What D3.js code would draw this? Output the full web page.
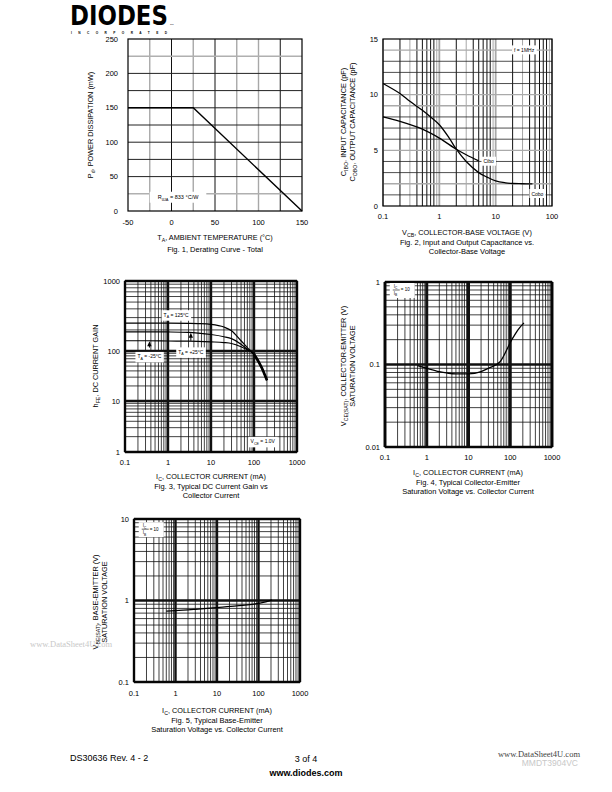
<!DOCTYPE html>
<html><head><meta charset="utf-8">
<script src="https://cdn.jsdelivr.net/npm/d3@7"></script>
<style>body{margin:0;background:#fff}svg{display:block}text{font-family:"Liberation Sans",Arial,sans-serif;fill:#000}</style>
</head><body><svg id="page" width="612" height="792"></svg>
<script>
// ---------- DATA ----------
// Fig 1: derating curve
const fig1XTicks = [-50, 0, 50, 100, 150];
const fig1YTicks = [0, 50, 100, 150, 200, 250];
const fig1Temp = [-50, 25, 150];
const fig1Power = [150, 150, 0];
// Fig 2: capacitance
const fig2XTicks = [0.1, 1, 10, 100];
const fig2XLabels = ["0.1", "1", "10", "100"];
const fig2YTicks = [0, 5, 10, 15];
const fig2VcbCobo = [0.1, 0.2, 0.3, 0.5, 0.7, 1, 1.5, 2, 3, 5, 7, 10, 15, 20, 30, 45];
const fig2Cobo = [11, 10.1, 9.4, 8.6, 8.0, 7.3, 6.1, 5.1, 4.0, 3.0, 2.6, 2.25, 2.08, 2.02, 2.0, 1.98];
const fig2VcbCibo = [0.1, 0.2, 0.5, 1, 2, 3, 5];
const fig2Cibo = [8, 7.6, 6.9, 6.1, 5.1, 4.6, 4.05];
// Fig 3: DC current gain
const fig3XTicks = [0.1, 1, 10, 100, 1000];
const fig3XLabels = ["0.1", "1", "10", "100", "1000"];
const fig3YTicks = [1, 10, 100, 1000];
const fig3Ic = [0.1, 0.3, 1, 3, 5, 10, 20, 30, 50, 70, 100, 150, 200];
const fig3H125 = [250, 250, 250, 248, 246, 240, 220, 195, 140, 112, 84, 46, 26];
const fig3H25 = [188, 188, 187, 184, 180, 172, 160, 150, 125, 106, 86, 47, 26];
const fig3Hm25 = [140, 140, 139, 138, 137, 135, 132, 128, 115, 104, 88, 48, 26];
// Fig 4: VCE(sat)
const fig4YTicks = [0.01, 0.1, 1];
const fig4YLabels = ["0.01", "0.1", "1"];
const fig4Ic = [0.6, 1, 2, 3, 5, 10, 20, 30, 57, 108, 150, 213];
const fig4Vce = [0.097, 0.09, 0.082, 0.079, 0.077, 0.077, 0.082, 0.09, 0.108, 0.198, 0.26, 0.32];
// Fig 5: VBE(sat)
const fig5YTicks = [0.1, 1, 10];
const fig5YLabels = ["0.1", "1", "10"];
const fig5Ic = [0.6, 1, 3, 10, 30, 100, 150, 210];
const fig5Vbe = [0.74, 0.75, 0.78, 0.82, 0.86, 0.92, 0.96, 1.02];

// ---------- HELPERS ----------
const svg = d3.select("#page");
svg.append("rect").attr("width", 612).attr("height", 792).attr("fill", "#fff");
const FS = 7.5;

function rich(t, parts, fs) {
  let shift = 0;
  parts.forEach(p => {
    if (Array.isArray(p)) {
      t.append("tspan").attr("dy", fs * 0.3 - shift).attr("font-size", fs * 0.72).text(p[0]);
      shift = fs * 0.3;
    } else {
      const s = t.append("tspan").text(p);
      if (shift) { s.attr("dy", -shift); shift = 0; }
    }
  });
  return t;
}
function text(x, y, parts, opts = {}) {
  const fs = opts.fs || FS;
  const t = svg.append("text").attr("x", x).attr("y", y).attr("font-size", fs)
    .attr("text-anchor", opts.anchor || "middle");
  if (opts.rotate) t.attr("transform", `rotate(-90,${x},${y})`);
  if (opts.weight) t.attr("font-weight", opts.weight);
  if (opts.fill) t.style("fill", opts.fill);
  if (opts.family) t.style("font-family", opts.family);
  rich(t, parts, fs);
  return t;
}
function logValues(lo, hi) {
  const out = [];
  for (let e = Math.round(Math.log10(lo)); e < Math.round(Math.log10(hi)); e++)
    for (let m = 1; m < 10; m++) out.push({ v: m * Math.pow(10, e), m });
  out.push({ v: hi, m: 1 });
  return out;
}
function vline(g, x, y0, y1, w, c) {
  g.append("line").attr("x1", x).attr("x2", x).attr("y1", y0).attr("y2", y1)
    .attr("stroke", c).attr("stroke-width", w);
}
function hline(g, y, x0, x1, w, c) {
  g.append("line").attr("x1", x0).attr("x2", x1).attr("y1", y).attr("y2", y)
    .attr("stroke", c).attr("stroke-width", w);
}
function frame(x, y) {
  const [x0, x1] = x.range(), r = y.range();
  const y0 = d3.min(r), y1 = d3.max(r);
  svg.append("rect").attr("x", x0).attr("y", y0).attr("width", x1 - x0).attr("height", y1 - y0)
    .attr("fill", "none").attr("stroke", "#000").attr("stroke-width", 1.2);
}
function labelBox(cx, cy, parts, fs, anchor) {
  const g = svg.append("g");
  const t = g.append("text").attr("x", cx).attr("y", cy + fs * 0.35).attr("font-size", fs)
    .attr("text-anchor", anchor || "middle");
  rich(t, parts, fs);
  const bb = t.node().getBBox();
  g.insert("rect", "text").attr("x", bb.x - 2).attr("y", bb.y - 1.5)
    .attr("width", bb.width + 4).attr("height", bb.height + 3).attr("fill", "#fff");
  return g;
}
function yTicks(y, vals, labels, xPos) {
  vals.forEach((v, i) => text(xPos, y(v) + FS * 0.35, [labels ? labels[i] : String(v)], { anchor: "end" }));
}
function xTicks(x, vals, labels, yPos) {
  vals.forEach((v, i) => text(x(v), yPos, [labels ? labels[i] : String(v)]));
}
function logGrid(x, y, xw, yw) {
  const g = svg.append("g");
  const [xd0, xd1] = x.domain();
  const yd = y.domain();
  const [x0, x1] = x.range();
  const yr = y.range();
  const ya = d3.min(yr), yb = d3.max(yr);
  logValues(xd0, xd1).forEach(d => vline(g, x(d.v), ya, yb, d.m === 1 ? xw : 0.8, "#111"));
  logValues(yd[0], yd[yd.length - 1]).forEach(d => hline(g, y(d.v), x0, x1, d.m === 1 ? yw : 0.8, "#111"));
  return g;
}

// ---------- LOGO ----------
{
  const lg = svg.append("g");
  const lt = lg.append("text").attr("x", 0).attr("y", 0).attr("font-size", 27).attr("font-weight", "bold")
    .style("font-family", "'DejaVu Sans',sans-serif").text("DIODES");
  const sx = 98 / lt.node().getComputedTextLength();
  lg.attr("transform", `translate(70,24.7) scale(${sx},1)`);
  svg.append("text").attr("x", 170).attr("y", 25).attr("font-size", 2.5).text("TM");
  svg.append("text").attr("x", 71).attr("y", 34).attr("font-size", 3.2).attr("font-weight", "bold")
    .attr("textLength", 96).attr("lengthAdjust", "spacing").text("INCORPORATED");
}

// ---------- FIG 1 ----------
{
  const x = d3.scaleLinear().domain([-50, 150]).range([128, 302]);
  const y = d3.scaleLinear().domain([0, 250]).range([211, 39]);
  const g = svg.append("g");
  const grayX = [-25, 25, 75, 100], grayY = [225, 25];
  d3.range(-25, 150, 25).forEach(v => vline(g, x(v), y(250), y(0), grayX.includes(v) ? 1.4 : 1, grayX.includes(v) ? "#a8a8a8" : "#111"));
  d3.range(25, 250, 25).forEach(v => hline(g, y(v), x(-50), x(150), grayY.includes(v) ? 1.4 : 1, grayY.includes(v) ? "#b0b0b0" : "#222"));
  frame(x, y);
  const line = d3.line().x((d, i) => x(fig1Temp[i])).y(d => y(d));
  svg.append("path").datum(fig1Power).attr("d", line).attr("fill", "none").attr("stroke", "#000").attr("stroke-width", 1.4);
  const bx0 = x(-25), bx1 = x(40), by0 = y(28), by1 = y(12);
  svg.append("rect").attr("x", bx0).attr("y", by0).attr("width", bx1 - bx0).attr("height", by1 - by0).attr("fill", "#fff");
  text((bx0 + bx1) / 2, (by0 + by1) / 2 + 2, ["R", ["θJA"], " = 833 °C/W"], { fs: 5.5 });
  yTicks(y, fig1YTicks, null, 118);
  xTicks(x, fig1XTicks, null, 225);
  text(93, 125, ["P", ["d"], ", POWER DISSIPATION (mW)"], { rotate: true, fs: 7.3 });
  text(215, 240, ["T", ["A"], ", AMBIENT TEMPERATURE (°C)"], { fs: 7.3 });
  text(215, 252, ["Fig. 1, Derating Curve - Total"]);
}

// ---------- FIG 2 ----------
{
  const x = d3.scaleLog().domain([0.1, 100]).range([383, 552]);
  const y = d3.scaleLinear().domain([0, 15]).range([206, 39]);
  const g = svg.append("g");
  logValues(0.1, 100).forEach(d => {
    const gray = d.m === 1 || d.m === 3 || d.m === 9;
    vline(g, x(d.v), 39, 206, d.m === 1 ? 1.8 : 1, gray ? "#a8a8a8" : "#111");
  });
  d3.range(1, 15).forEach(v => {
    const gray = v % 5 === 0 || v === 2 || v === 9 || v === 14;
    hline(g, y(v), 383, 552, gray ? 1.4 : 0.8, gray ? "#aaa" : "#222");
  });
  frame(x, y);
  const lineA = d3.line().curve(d3.curveCatmullRom).x((d, i) => x(fig2VcbCobo[i])).y(d => y(d));
  const lineB = d3.line().curve(d3.curveCatmullRom).x((d, i) => x(fig2VcbCibo[i])).y(d => y(d));
  svg.append("path").datum(fig2Cobo).attr("d", lineA).attr("fill", "none").attr("stroke", "#000").attr("stroke-width", 1.3);
  svg.append("path").datum(fig2Cibo).attr("d", lineB).attr("fill", "none").attr("stroke", "#000").attr("stroke-width", 1.3);
  labelBox(x(7.5), y(4.0), ["Cibo"], 5);
  labelBox(x(55), y(1.1), ["Cobo"], 5);
  labelBox(x(32), y(14), ["f = 1MHz"], 5);
  yTicks(y, fig2YTicks, null, 378);
  xTicks(x, fig2XTicks, fig2XLabels, 219);
  text(346, 122, ["C", ["IBO"], ", INPUT CAPACITANCE (pF)"], { rotate: true, fs: 7.3 });
  text(355, 122, ["C", ["OBO"], ", OUTPUT CAPACITANCE (pF)"], { rotate: true, fs: 7.3 });
  text(467, 235, ["V", ["CB"], ", COLLECTOR-BASE VOLTAGE (V)"], { fs: 7.3 });
  text(467, 245, ["Fig. 2, Input and Output Capacitance vs."]);
  text(467, 254, ["Collector-Base Voltage"]);
}

// ---------- FIG 3 ----------
{
  const x = d3.scaleLog().domain([0.1, 1000]).range([125, 297]);
  const y = d3.scaleLog().domain([1, 10, 100, 1000]).range([452, 401, 351, 281]);
  logGrid(x, y, 2.4, 2.4);
  frame(x, y);
  const mk = arr => d3.line().curve(d3.curveMonotoneX).x((d, i) => x(fig3Ic[i])).y(d => y(d))(arr);
  [fig3H125, fig3H25, fig3Hm25].forEach(a =>
    svg.append("path").attr("d", mk(a)).attr("fill", "none").attr("stroke", "#000").attr("stroke-width", 1.2));
  const tail = d3.line().curve(d3.curveMonotoneX).x((d, i) => x(fig3Ic.slice(10)[i])).y(d => y(d));
  svg.append("path").datum(fig3H25.slice(10)).attr("d", tail).attr("fill", "none").attr("stroke", "#000").attr("stroke-width", 2.6);
  [[0.37, 112, 138], [3.4, 140, 182]].forEach(([xv, v0, v1]) => {
    vline(svg, x(xv), y(v0), y(v1) + 3, 1, "#000");
    const px = x(xv), py = y(v1);
    svg.append("path").attr("d", `M${px},${py} L${px - 2.2},${py + 5} L${px + 2.2},${py + 5} Z`).attr("fill", "#000");
  });
  labelBox(x(1.55), y(327), ["T", ["A"], " = 125°C"], 5);
  labelBox(x(3.4), y(95), ["T", ["A"], " = +25°C"], 5);
  labelBox(x(0.37), y(77), ["T", ["A"], " = -25°C"], 5);
  labelBox(x(160), y(1.6), ["V", ["CE"], " = 1.0V"], 5);
  yTicks(y, fig3YTicks, null, 120);
  xTicks(x, fig3XTicks, fig3XLabels, 465);
  text(98, 366, ["h", ["FE"], ", DC CURRENT GAIN"], { rotate: true, fs: 7.3 });
  text(211, 479, ["I", ["C"], ", COLLECTOR CURRENT (mA)"], { fs: 7.3 });
  text(211, 489, ["Fig. 3, Typical DC Current Gain vs"]);
  text(211, 498, ["Collector Current"]);
}

// ---------- FIG 4 ----------
{
  const x = d3.scaleLog().domain([0.1, 1000]).range([385, 552]);
  const y = d3.scaleLog().domain([0.01, 1]).range([447, 282]);
  logGrid(x, y, 3, 2.4);
  frame(x, y);
  const line = d3.line().curve(d3.curveMonotoneX).x((d, i) => x(fig4Ic[i])).y(d => y(d));
  svg.append("path").datum(fig4Vce).attr("d", line).attr("fill", "none").attr("stroke", "#000").attr("stroke-width", 1.3);
  const bx = x(0.13), by = y(0.8);
  svg.append("rect").attr("x", bx).attr("y", by - 7).attr("width", 25).attr("height", 15).attr("fill", "#fff");
  text(bx + 4, by - 2, ["I", ["C"]], { fs: 4.5, anchor: "start" });
  hline(svg, by, bx + 3, bx + 10, 0.6, "#000");
  text(bx + 4, by + 5, ["I", ["B"]], { fs: 4.5, anchor: "start" });
  text(bx + 11, by + 1.5, ["= 10"], { fs: 4.5, anchor: "start" });
  yTicks(y, fig4YTicks, fig4YLabels, 380);
  xTicks(x, fig3XTicks, fig3XLabels, 460);
  text(346, 366, ["V", ["CE(SAT)"], ", COLLECTOR-EMITTER (V)"], { rotate: true, fs: 7.3 });
  text(355, 366, ["SATURATION VOLTAGE"], { rotate: true, fs: 7.3 });
  text(468, 475, ["I", ["C"], ", COLLECTOR CURRENT (mA)"], { fs: 7.3 });
  text(468, 485, ["Fig. 4, Typical Collector-Emitter"]);
  text(468, 494, ["Saturation Voltage vs. Collector Current"]);
}

// ---------- FIG 5 ----------
{
  const x = d3.scaleLog().domain([0.1, 1000]).range([134, 300]);
  const y = d3.scaleLog().domain([0.1, 10]).range([682, 519]);
  logGrid(x, y, 2.4, 2.4);
  frame(x, y);
  const line = d3.line().curve(d3.curveMonotoneX).x((d, i) => x(fig5Ic[i])).y(d => y(d));
  svg.append("path").datum(fig5Vbe).attr("d", line).attr("fill", "none").attr("stroke", "#000").attr("stroke-width", 1.3);
  const bx = x(0.13), by = y(7.5);
  svg.append("rect").attr("x", bx).attr("y", by - 7).attr("width", 25).attr("height", 15).attr("fill", "#fff");
  text(bx + 4, by - 2, ["I", ["C"]], { fs: 4.5, anchor: "start" });
  hline(svg, by, bx + 3, bx + 10, 0.6, "#000");
  text(bx + 4, by + 5, ["I", ["B"]], { fs: 4.5, anchor: "start" });
  text(bx + 11, by + 1.5, ["= 10"], { fs: 4.5, anchor: "start" });
  yTicks(y, fig5YTicks, fig5YLabels, 129);
  xTicks(x, fig3XTicks, fig3XLabels, 696);
  text(98, 602, ["V", ["BE(SAT)"], ", BASE-EMITTER (V)"], { rotate: true, fs: 7.3 });
  text(107, 602, ["SATURATION VOLTAGE"], { rotate: true, fs: 7.3 });
  text(217, 713, ["I", ["C"], ", COLLECTOR CURRENT (mA)"], { fs: 7.3 });
  text(217, 723, ["Fig. 5, Typical Base-Emitter"]);
  text(217, 732, ["Saturation Voltage vs. Collector Current"]);
}

// ---------- WATERMARKS & FOOTER ----------
text(30, 647, ["www.DataSheet4U.com"], { fs: 8.5, anchor: "start", fill: "#c8c8c8", family: "'Liberation Serif',serif" });
text(70, 761, ["DS30636 Rev. 4 - 2"], { fs: 9, anchor: "start" });
text(306, 762, ["3 of 4"], { fs: 9 });
text(306, 776, ["www.diodes.com"], { fs: 9, weight: "bold" });
text(578, 766, ["MMDT3904VC"], { fs: 8.5, anchor: "end", fill: "#c8c8c8" });
text(580, 757, ["www.DataSheet4U.com"], { fs: 8.5, anchor: "end", fill: "#444", family: "'Liberation Serif',serif" });
</script></body></html>
